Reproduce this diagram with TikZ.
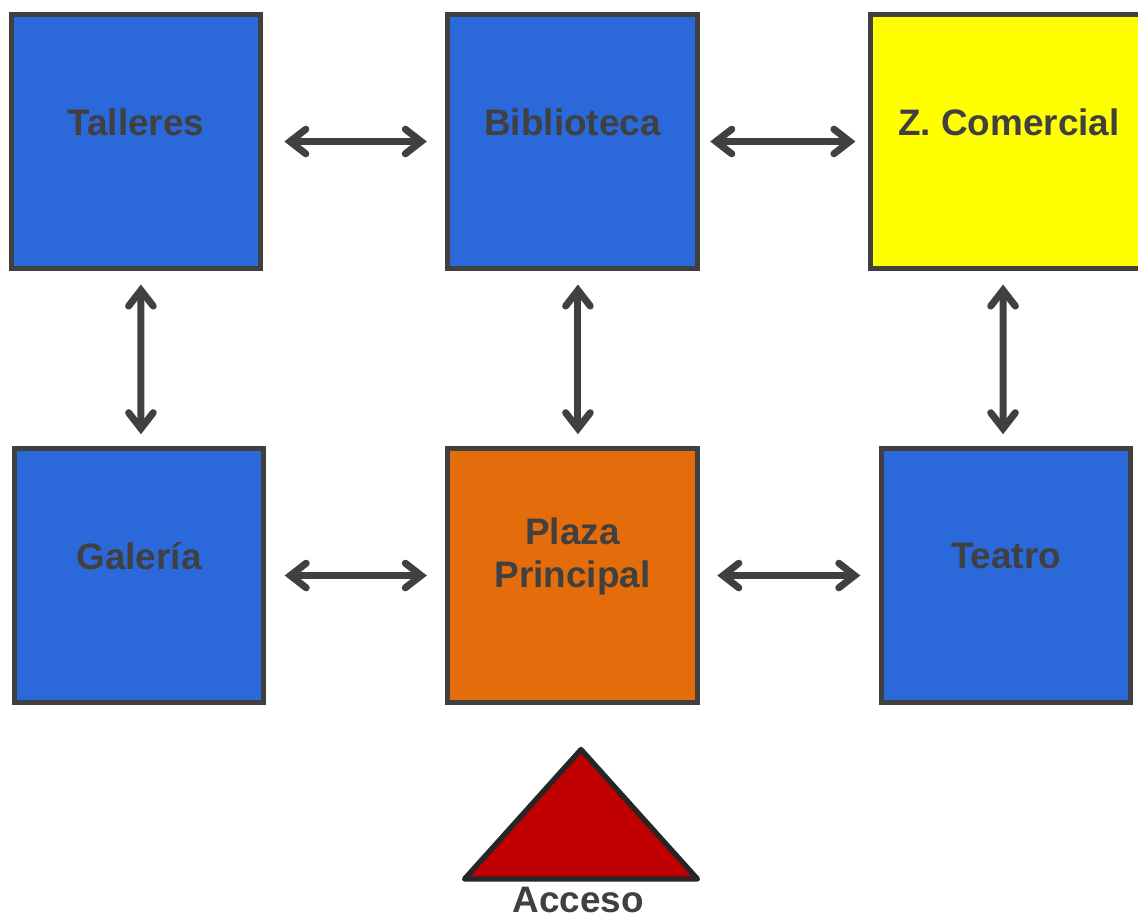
\documentclass[tikz,border=0pt]{standalone}
\usepackage{fontspec}
\setmainfont{Liberation Sans}
\usetikzlibrary{arrows.meta}

\definecolor{ink}{HTML}{404040}
\definecolor{zoneblue}{HTML}{2B68D9}
\definecolor{plazaorange}{HTML}{E46C0A}
\definecolor{shopyellow}{HTML}{FFFF00}
\definecolor{gatered}{HTML}{C00000}

\begin{document}
\begin{tikzpicture}[x=0.02cm, y=-0.02cm,
    box/.style={draw=ink, line width=2.8pt, minimum width=142pt,
      minimum height=145pt, inner sep=0pt},
    zonename/.style={text=ink, font=\fontsize{21pt}{24.4pt}\selectfont\bfseries,
      align=center},
    txt/.style={zonename, yshift=11pt},
    link/.style={draw=ink, line width=4pt,
      {Straight Barb[line cap=round, line join=miter, length=9pt, width=14pt]}-{Straight Barb[line cap=round, line join=miter, length=9pt, width=14pt]}}]
  \useasboundingbox (0, 0) rectangle (1138, 919);

  % Row 1 (top)
  \node[box, fill=zoneblue, label={[txt]center:Talleres}] (tal) at (136, 141.5) {};
  \node[box, fill=zoneblue, label={[txt]center:Biblioteca}] (bib) at (572.5, 141.5) {};
  \node[box, fill=shopyellow, minimum width=158pt,
    label={[txt]center:Z. Comercial}] (com) at (1009, 141.5) {};
  % Row 2
  \node[box, fill=zoneblue, label={[txt]center:Galería}] (gal) at (139, 575.5) {};
  \node[box, fill=plazaorange, label={[txt]center:Plaza\\Principal}] (pla) at (572.5, 575.5) {};
  \node[box, fill=zoneblue, label={[txt]center:Teatro}] (tea) at (1006, 575.5) {};

  % Entrance
  \coordinate (acc) at (581, 879);
  \draw[draw=black!85, line width=3pt, line join=round, fill=gatered]
    ([xshift=-66.3pt]acc) -- ([yshift=73.7pt]acc) -- ([xshift=66.3pt]acc) -- cycle;
  \node[zonename] (acclabel) at (578, 900) {Acceso};

  % Horizontal links
  \draw[link, shorten <=12pt, shorten >=10.5pt] (tal.east) -- (bib.west);
  \draw[link, shorten <=6pt, shorten >=7pt] (bib.east) -- (com.west);
  \draw[link, shorten <=10.5pt, shorten >=10.5pt] (gal.east) -- (pla.west);
  \draw[link, shorten <=10pt, shorten >=10.5pt] (pla.east) -- (tea.west);
  % Vertical links
  \draw[link, shorten <=7.5pt, shorten >=6.5pt]
    ([xshift=2.8pt]tal.south) -- ([xshift=1.1pt]gal.north);
  \draw[link, shorten <=7.5pt, shorten >=6.5pt]
    ([xshift=3.1pt]bib.south) -- ([xshift=3.1pt]pla.north);
  \draw[link, shorten <=7.5pt, shorten >=6.5pt]
    ([xshift=-3.4pt]com.south) -- ([xshift=-1.7pt]tea.north);
\end{tikzpicture}
\end{document}
